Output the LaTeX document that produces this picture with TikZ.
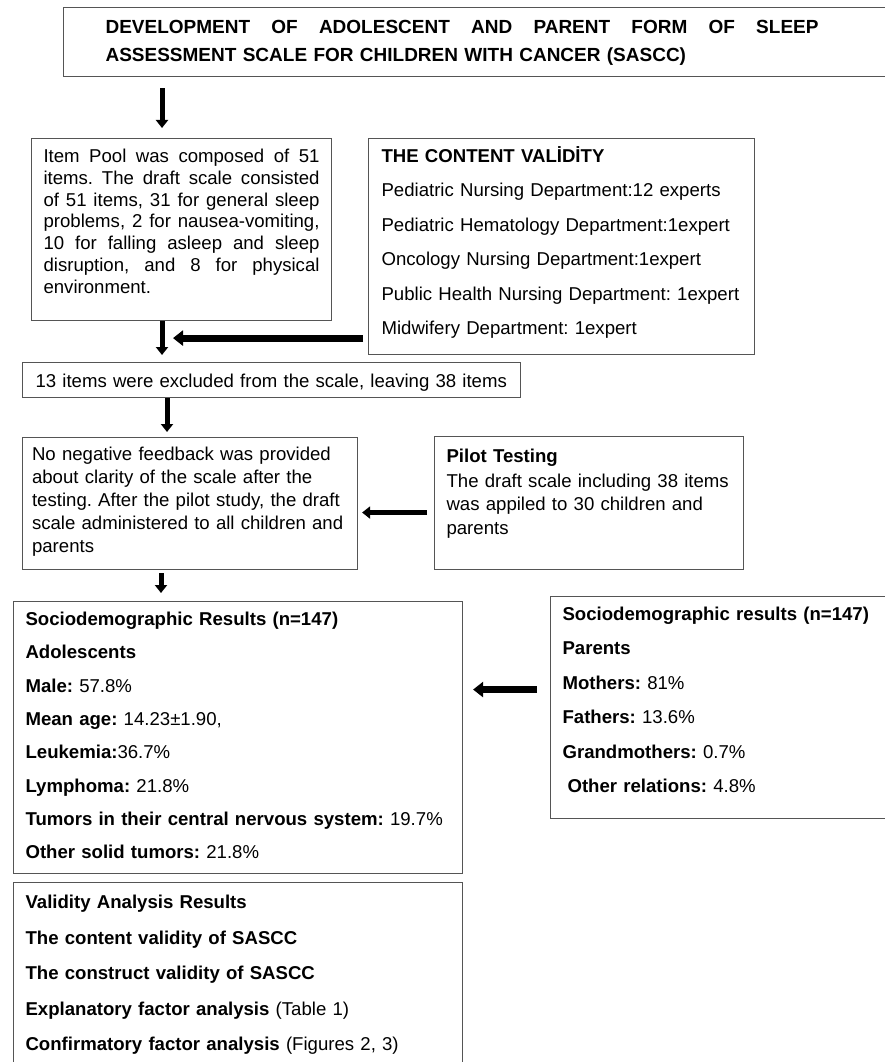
\documentclass[tikz,border=0pt]{standalone}
\usepackage{fontspec}
\setmainfont{Liberation Sans}
\usepackage{tikz}
\usetikzlibrary{arrows.meta, positioning, calc}
\definecolor{boxgray}{RGB}{85,85,85}
\hyphenpenalty=10000
\exhyphenpenalty=10000
\frenchspacing

\begin{document}
\begin{tikzpicture}[
    x=1pt, y=-1pt,
    box/.style={draw=boxgray, line width=1.1pt, anchor=north west, inner ysep=0pt, align=left},
    body/.style={font={\fontsize{18.6}{#1}\selectfont}},
    flow/.style={-{Triangle[length=8pt, width=12pt]}, line width=5pt},
    bigflow/.style={-{Triangle[length=10pt, width=15pt]}, line width=7pt},
]
    \useasboundingbox (0,0) rectangle (884,1062);

    % Title
    \node[box, inner xsep=42pt, text width=753pt, text height=26pt, text depth=43pt,
          font={\fontsize{19}{27.5}\selectfont\bfseries}] (title) at (63,7)
        {\hbox to 713pt{DEVELOPMENT\hfill OF\hfill ADOLESCENT\hfill AND\hfill PARENT\hfill FORM\hfill OF\hfill SLEEP}\\
         ASSESSMENT SCALE FOR CHILDREN WITH CANCER (SASCC)};

    % Item pool
    \node[box, body=21.8, align=justify, inner xsep=12pt, text width=276pt,
          text height=24pt, text depth=158pt] (pool) at (31,138)
        {Item Pool was composed of 51 items. The draft scale consisted of 51 items,
         31 for general sleep problems, 2 for nausea-vomiting, 10 for falling asleep
         and sleep disruption, and 8 for physical environment.};

    % Content validity
    \node[box, body=34.4, inner xsep=13pt, text width=360pt,
          text height=24pt, text depth=192pt] (content) at (368,138)
        {\textbf{THE CONTENT VALİDİTY}\\
         Pediatric Nursing Department:12 experts\\
         Pediatric Hematology Department:1expert\\
         Oncology Nursing Department:1expert\\
         Public Health Nursing Department: 1expert\\
         Midwifery Department: 1expert};

    % Excluded items
    \node[box, body=22, inner xsep=13pt, text width=472pt,
          text height=24.5pt, text depth=10.5pt] (excl) at (22,362)
        {13 items were excluded from the scale, leaving 38 items};

    % Feedback
    \node[box, body=23, inner xsep=9.5pt, text width=316pt,
          text height=22.5pt, text depth=109.5pt] (noneg) at (22,437)
        {No negative feedback was provided\\
         about clarity of the scale after the\\
         testing. After the pilot study, the draft\\
         scale administered to all children and\\
         parents};

    % Pilot testing
    \node[box, body=23.5, inner xsep=12pt, text width=285pt,
          text height=25.5pt, text depth=107.5pt] (pilot) at (434,436)
        {\textbf{Pilot Testing}\\[1.5pt]
         The draft scale including 38 items\\
         was appiled to 30 children and\\
         parents};

    % Adolescents
    \node[box, body=33.3, inner xsep=12pt, text width=425pt,
          text height=24pt, text depth=248pt] (socio) at (13,601)
        {\textbf{Sociodemographic Results (n=147)}\\
         \textbf{Adolescents}\\
         \textbf{Male:} 57.8\%\\
         \textbf{Mean age:} 14.23±1.90,\\
         \textbf{Leukemia:}36.7\%\\
         \textbf{Lymphoma:} 21.8\%\\
         \textbf{Tumors in their central nervous system:} 19.7\%\\
         \textbf{Other solid tumors:} 21.8\%};

    % Parents
    \node[box, body=34.4, inner xsep=12pt, text width=326pt,
          text height=24pt, text depth=198pt] (parents) at (550,596)
        {\textbf{Sociodemographic results (n=147)}\\
         \textbf{Parents}\\
         \textbf{Mothers:} 81\%\\
         \textbf{Fathers:} 13.6\%\\
         \textbf{Grandmothers:} 0.7\%\\
         \hspace{5pt}\textbf{Other relations:} 4.8\%};

    % Validity analysis
    \node[box, body=35.5, inner xsep=12pt, text width=425pt,
          text height=26pt, text depth=200pt] (valid) at (13,882)
        {\textbf{Validity Analysis Results}\\
         \textbf{The content validity of SASCC}\\
         \textbf{The construct validity of SASCC}\\
         \textbf{Explanatory factor analysis} (Table 1)\\
         \textbf{Confirmatory factor analysis} (Figures 2, 3)};

    % Arrows
    \coordinate (s1) at ([xshift=131pt]pool.south west);
    \coordinate (c1) at ([yshift=17pt]content.south west);
    \coordinate (s2) at ([xshift=145pt]excl.south west);
    \coordinate (p1) at ([yshift=-9.5pt]pilot.west);
    \coordinate (s3) at ([xshift=139pt]noneg.south west);
    \coordinate (p2) at ([yshift=18pt]parents.west);

    \draw[flow, shorten <=11pt, shorten >=10pt] (s1 |- title.south) -- (s1 |- pool.north);
    \draw[flow, shorten >=7pt] (s1 |- pool.south) -- (s1 |- excl.north);
    \draw[bigflow, shorten <=5pt, shorten >=11pt] (c1) -- (s1 |- c1);
    \draw[flow, shorten >=5pt] (s2) -- (s2 |- noneg.north);
    \draw[flow, shorten <=7pt, shorten >=4pt] (p1) -- (p1 -| noneg.east);
    \draw[flow, shorten <=3pt, shorten >=8pt] (s3) -- (s3 |- socio.north);
    \draw[bigflow, shorten <=13pt, shorten >=10pt] (p2) -- (p2 -| socio.east);
\end{tikzpicture}
\end{document}
